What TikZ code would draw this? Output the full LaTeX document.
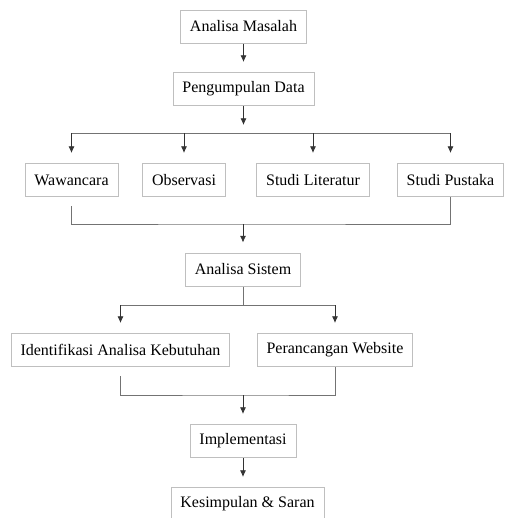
\documentclass[tikz,border=0pt]{standalone}
\usepackage{fontspec}
\setmainfont{Liberation Serif}
\usetikzlibrary{arrows.meta,shadows}

\begin{document}
\begin{tikzpicture}
        [x=0.75pt,y=-0.75pt,
         box/.style={draw=black!25,fill=white,line width=0.5pt,minimum height=25pt,inner xsep=7pt,
           font=\fontsize{12}{14}\selectfont,
           drop shadow={shadow xshift=0.5pt,shadow yshift=-0.5pt,fill=black!40,opacity=0.5}},
         arr/.style={-{Latex[length=5pt,width=4.5pt]},black!80,line width=0.6pt,shorten >=7.5pt},
         link/.style={black!55,line width=0.6pt}]
        \useasboundingbox (0,0) rectangle (510,518);

        \node[box] (masalah) at (243.5,26.5) {Analisa Masalah};
        \node[box] (data) at (243.5,89) {Pengumpulan Data};
        \node[box] (wawancara) at (71.5,180) {Wawancara};
        \node[box] (observasi) at (184,180) {Observasi};
        \node[box] (literatur) at (313,180) {Studi Literatur};
        \node[box] (pustaka) at (450.5,180) {Studi Pustaka};
        \node[box] (sistem) at (243,269.5) {Analisa Sistem};
        \node[box] (kebutuhan) at (120.5,350) {Identifikasi Analisa Kebutuhan};
        \node[box] (website) at (335,350) {Perancangan Website};
        \node[box] (implementasi) at (243,441) {Implementasi};
        \node[box] (saran) at (247.5,504) {Kesimpulan \& Saran};

        \coordinate (bagi1) at (243.5,133);
        \coordinate (gabung1) at (243,224);
        \coordinate (bagi2) at (243,305);
        \coordinate (gabung2) at (243,395);

        \path [arr] (masalah) edge (data);
        \draw [arr,shorten >=6pt] (data) -- (bagi1);

        \draw [link] (wawancara.north |- bagi1) -- (pustaka.north |- bagi1);
        \foreach \n in {wawancara,observasi,literatur,pustaka}
            \draw [arr] (\n.north |- bagi1) -- (\n);

        \draw [link,shorten <=7pt] (wawancara) |- (gabung1) -| (pustaka);
        \draw [arr] (gabung1) -- (sistem);

        \draw [link] (sistem) -- (bagi2);
        \draw [link] (kebutuhan.north |- bagi2) -- (website.north |- bagi2);
        \foreach \n in {kebutuhan,website}
            \draw [arr] (\n.north |- bagi2) -- (\n);

        \draw [link,shorten <=7pt] (kebutuhan) |- (gabung2) -| (website);
        \draw [arr] (gabung2) -- (implementasi);
        \draw [arr] (implementasi.south) -- (implementasi.south |- saran.north);
    \end{tikzpicture}
\end{document}
